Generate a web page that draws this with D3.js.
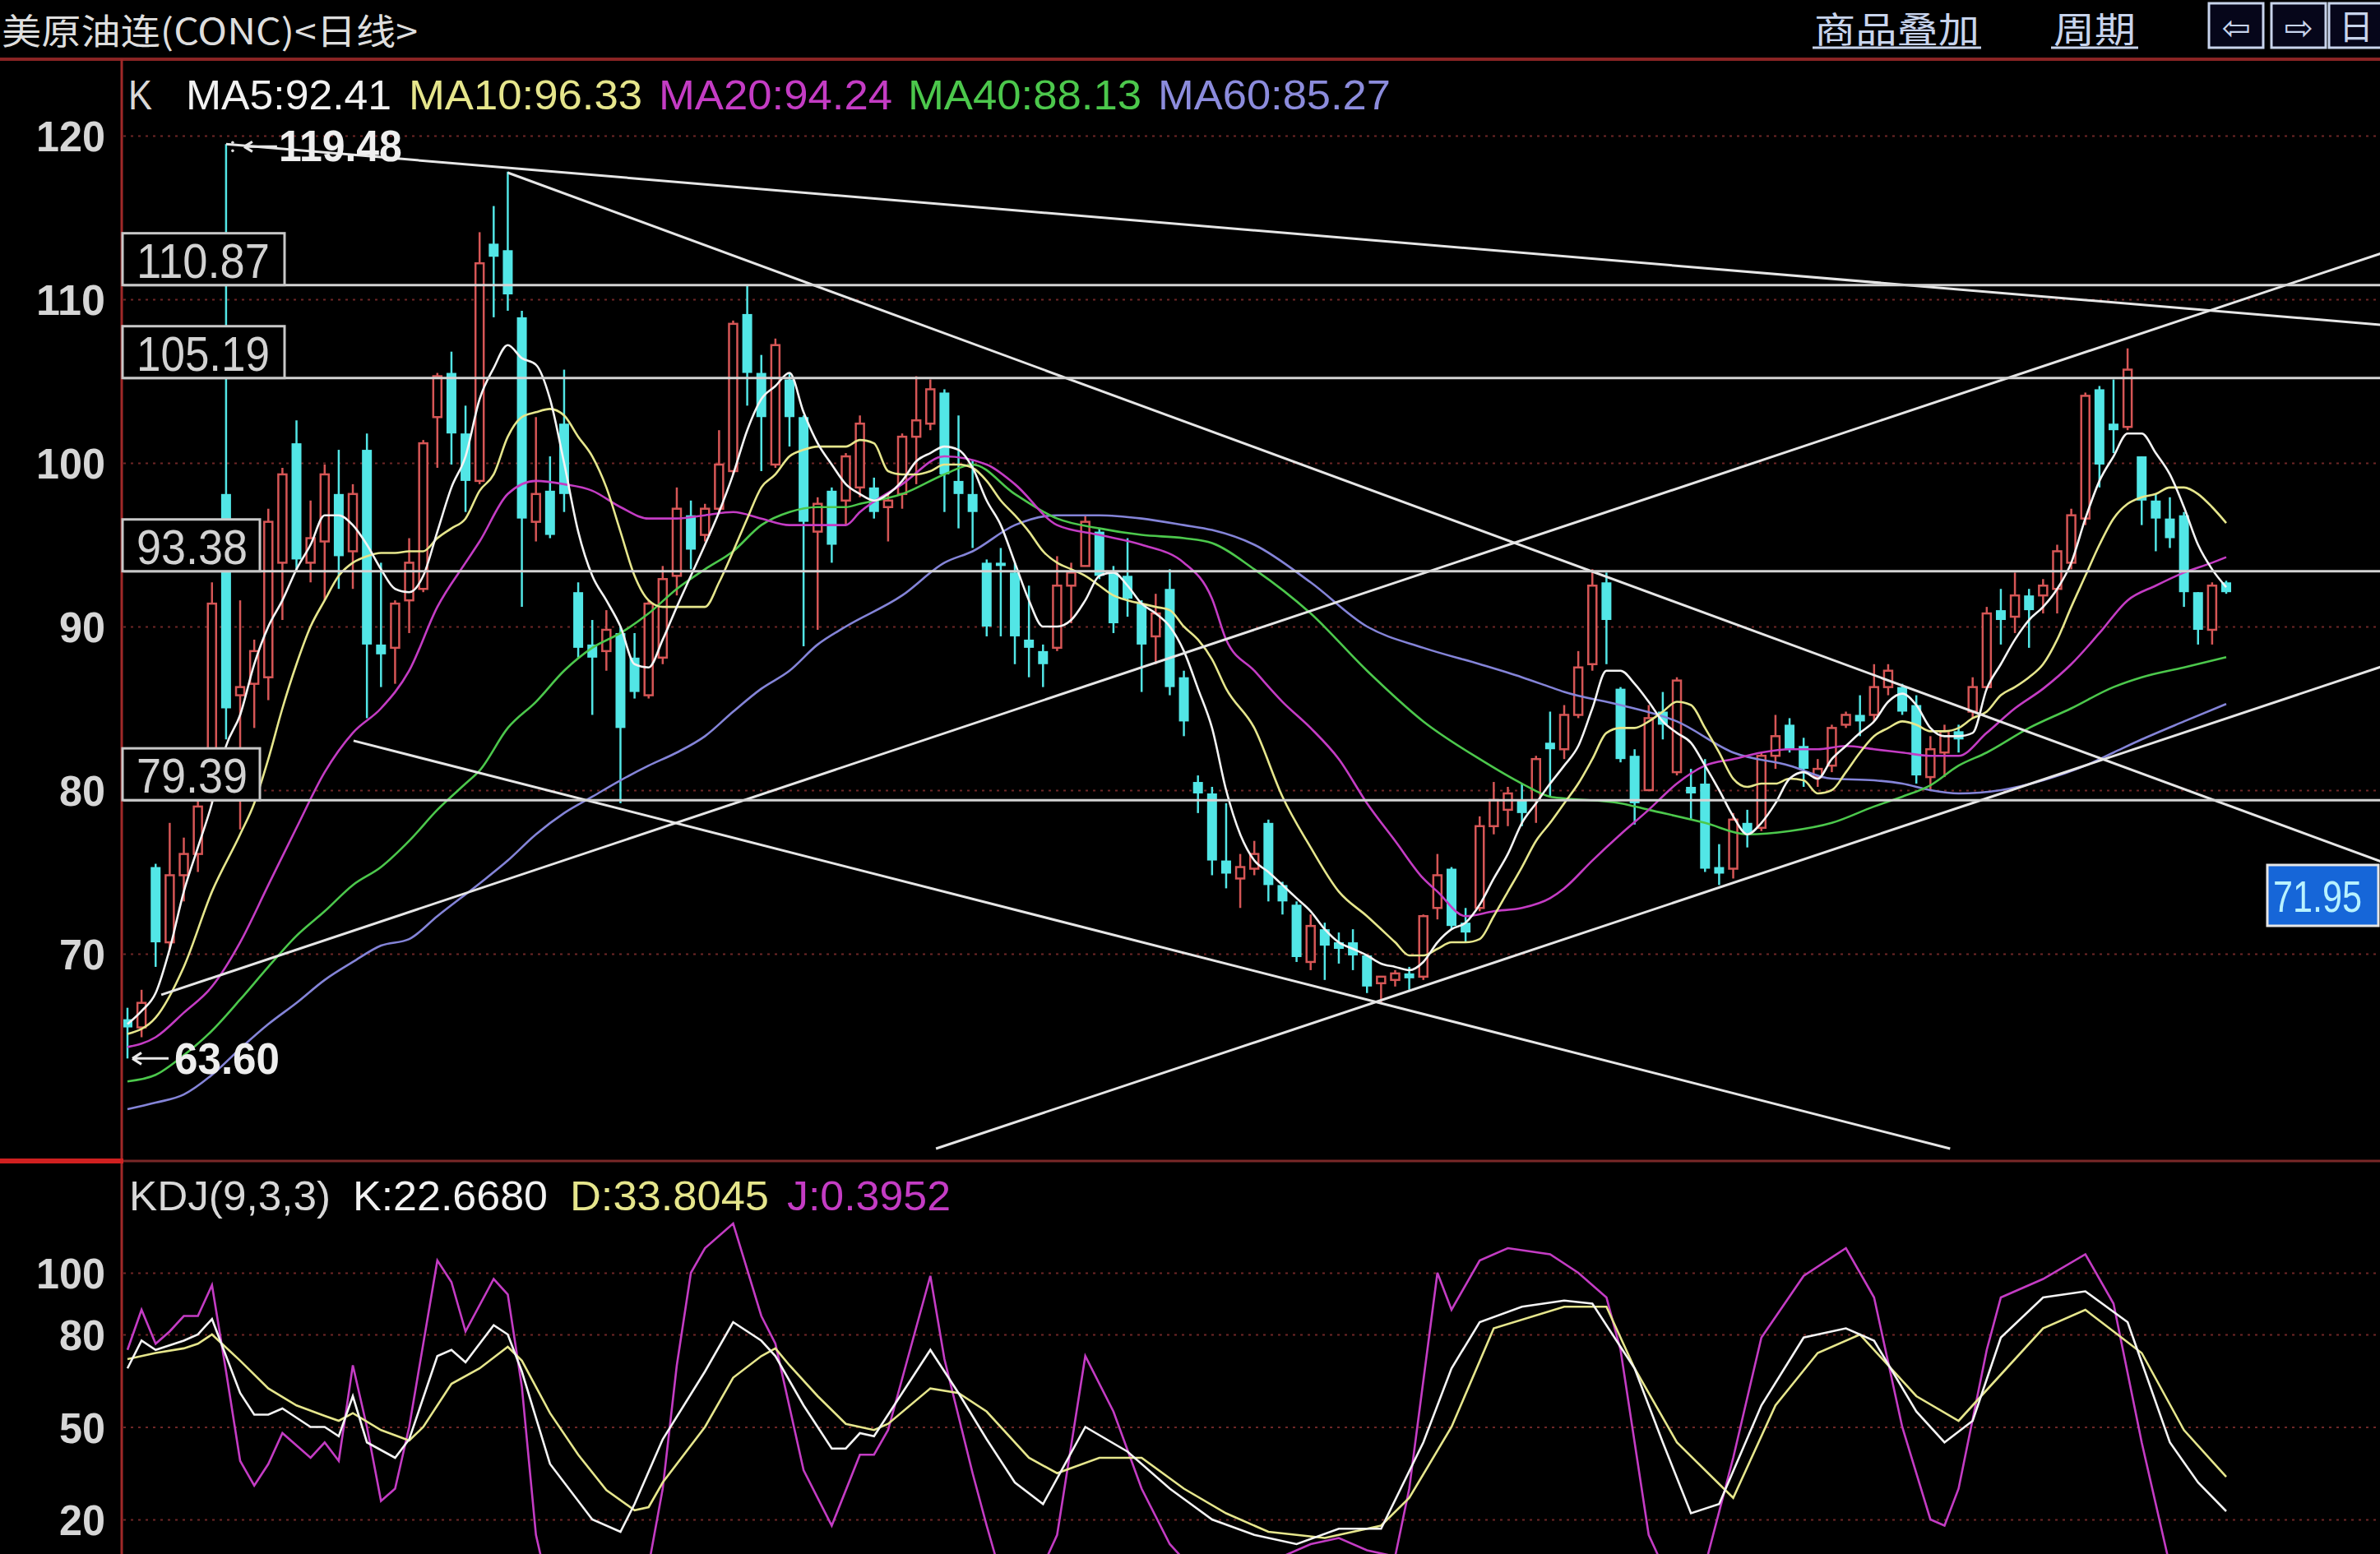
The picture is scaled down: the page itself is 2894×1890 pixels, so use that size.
<!DOCTYPE html>
<html><head><meta charset="utf-8">
<script src="https://cdn.jsdelivr.net/npm/d3@7/dist/d3.min.js"></script>
<style>html,body{margin:0;padding:0;background:#000;overflow:hidden}svg{display:block}</style>
</head><body>
<svg id="chart" width="2894" height="1890" xmlns="http://www.w3.org/2000/svg"></svg>
<script>
// ---------------- DATA ----------------
const candleOpen = [66.0,65.5,75.3,70.7,74.8,76.1,79.4,98.1,85.8,86.5,
86.9,93.9,101.2,93.9,95.2,98.1,94.6,100.8,88.9,88.7,
91.6,92.3,102.8,105.5,101.8,98.9,113.4,113.0,108.9,96.4,
98.3,102.4,92.1,88.9,88.5,89.6,88.1,85.8,88.1,93.1,
96.8,95.6,97.2,99.5,109.1,105.5,99.9,105.1,102.8,95.8,
98.3,97.7,98.5,98.5,97.3,98.1,101.6,102.4,104.3,98.9,
98.1,93.9,93.9,93.3,89.2,88.5,88.7,92.5,93.7,95.8,
93.3,93.1,91.4,89.4,92.3,86.9,80.5,79.8,75.7,74.6,
75.2,78.0,74.2,73.0,69.5,71.5,70.7,70.7,69.9,68.2,
68.4,68.8,68.6,72.8,75.2,71.9,72.8,77.8,78.8,79.4,
79.4,82.9,82.5,84.6,87.7,92.7,86.2,82.1,80.0,84.8,
81.1,80.2,80.4,75.3,75.2,78.0,77.7,82.1,84.0,82.7,
80.8,81.5,84.0,84.6,84.6,86.3,86.3,85.2,80.8,82.3,
83.6,84.8,86.3,91.0,90.6,91.9,91.9,92.3,93.9,96.6,
104.5,102.4,102.2,100.4,97.7,96.6,96.8,92.1,89.8,92.7];
const candleHigh = [66.7,67.8,75.5,78.0,77.1,79.4,92.7,119.48,91.6,89.2,
97.2,99.7,102.6,97.7,99.9,100.8,98.7,101.8,93.9,91.6,
95.4,101.4,105.5,106.8,103.5,114.1,115.7,117.8,109.3,102.8,
100.4,105.7,92.7,90.4,91.0,90.0,89.6,91.6,93.7,98.5,
97.7,97.5,102.0,108.7,110.9,106.6,107.6,105.5,102.9,97.9,
98.5,100.6,102.9,99.1,98.1,101.8,105.3,105.1,104.5,102.9,
100.2,94.1,94.8,93.9,92.5,88.9,94.3,93.9,96.8,96.0,
93.7,95.4,91.6,92.0,93.5,87.3,80.9,80.2,79.2,76.1,
76.9,78.2,74.4,73.2,72.4,71.9,71.3,71.5,69.9,68.6,
69.0,69.2,72.4,76.1,75.3,72.8,78.4,80.5,80.2,80.4,
82.1,84.8,85.2,88.5,93.5,93.3,86.3,82.5,85.2,86.0,
86.9,81.3,81.9,76.7,78.6,78.8,82.3,84.6,84.4,83.2,
81.9,84.0,84.8,85.8,87.7,87.7,86.5,85.8,83.3,84.0,
84.0,86.9,91.2,92.3,93.3,92.3,92.9,95.0,97.2,104.3,
104.7,105.1,107.0,100.4,98.1,97.9,97.0,92.1,92.7,92.8];
const candleLow = [63.6,64.9,69.2,70.3,73.2,75.0,79.2,83.1,77.6,83.8,
85.5,90.4,93.5,92.7,91.6,92.3,92.3,84.4,86.3,86.5,
89.6,92.1,99.7,99.9,97.0,98.7,108.9,109.3,91.2,95.2,
95.4,97.0,88.1,84.6,87.3,79.2,85.6,85.6,87.7,91.9,
93.5,95.2,97.0,99.3,103.5,99.5,99.7,101.0,88.8,89.8,
93.9,96.2,97.9,96.6,95.2,97.2,98.7,102.0,97.0,96.0,
94.8,89.4,89.4,87.7,86.9,86.3,88.5,90.2,93.7,92.9,
89.6,90.6,86.0,87.7,85.8,83.3,78.6,74.8,74.0,72.8,
74.8,73.2,72.4,69.5,69.0,68.4,69.4,69.0,67.6,67.0,
68.0,67.8,68.4,72.1,71.5,70.7,72.6,77.3,77.8,77.8,
78.0,79.6,81.9,84.4,87.3,87.7,81.7,77.9,80.0,83.1,
80.9,78.2,75.0,74.2,74.6,76.5,77.5,81.3,82.3,80.2,
80.2,81.1,83.8,83.3,84.2,85.8,84.6,80.4,80.0,80.8,
82.3,84.4,86.2,88.9,89.6,88.7,90.8,90.8,93.5,96.2,
98.5,100.6,102.0,96.2,94.6,94.8,91.2,88.9,88.9,92.0];
const candleClose = [65.5,67.0,70.7,74.8,76.1,79.0,91.4,85.0,86.3,88.5,
96.4,99.3,94.1,95.4,99.3,94.3,98.1,88.9,88.3,91.4,
93.9,101.2,105.3,101.8,98.9,112.2,112.6,110.3,96.6,98.1,
95.6,98.1,88.7,88.1,89.8,83.8,86.0,91.4,92.9,97.2,
94.7,97.2,99.9,108.5,105.5,102.8,107.2,102.8,96.4,97.5,
95.0,100.4,102.4,97.0,97.7,101.6,102.6,104.5,99.3,98.1,
97.0,90.0,93.7,89.4,88.7,87.7,92.5,93.3,96.4,93.1,
90.2,91.7,88.9,90.8,86.3,84.2,79.8,75.7,74.9,75.3,
76.1,74.2,73.2,69.8,71.7,70.5,70.3,69.9,68.0,68.6,
68.8,68.5,72.3,74.8,71.7,71.3,77.8,79.4,79.8,78.6,
81.9,82.5,84.6,87.5,92.5,90.4,81.9,79.2,84.4,84.0,
86.7,79.8,75.2,74.9,78.2,77.3,82.1,83.3,82.5,81.3,
81.3,83.8,84.6,84.2,86.3,87.3,84.8,80.9,82.5,83.6,
83.1,86.3,90.8,90.4,91.9,91.0,92.5,94.6,96.8,104.1,
99.9,102.0,105.7,97.7,96.6,95.4,92.1,89.8,92.5,92.1];

const ma5 = [65.7,66.5,67.6,70.3,73.8,76.5,79.2,82.7,84.6,87.7,
90.0,91.6,93.5,95.0,96.8,96.8,96.2,95.0,93.5,92.3,
92.1,93.1,95.8,98.5,100.4,103.9,105.8,107.2,106.4,106.0,
103.9,100.0,95.8,93.1,91.6,90.0,87.7,87.5,89.2,91.2,
93.1,95.0,97.0,99.3,102.0,103.9,104.7,105.5,103.1,101.2,
99.9,98.7,98.1,97.7,98.1,98.9,100.1,100.6,101.0,100.8,
99.7,97.7,96.2,93.9,91.6,90.0,90.0,90.4,91.6,93.1,
93.3,92.5,91.4,90.8,90.0,88.5,86.2,83.8,80.0,77.3,
75.7,75.0,74.2,73.4,72.6,71.5,70.7,70.3,69.9,69.4,
69.2,69.0,69.5,70.7,71.5,71.9,73.0,74.6,76.1,78.0,
79.2,80.4,81.5,82.7,85.0,87.3,87.3,86.5,85.4,84.2,
83.5,82.9,81.5,80.0,78.4,77.3,78.0,79.2,80.7,81.1,
80.7,81.9,82.7,83.5,84.2,85.4,85.9,85.2,83.8,83.3,
83.3,83.5,86.2,87.7,89.2,90.4,91.2,92.3,93.9,96.6,
98.9,100.4,101.8,101.8,100.6,99.3,97.3,95.0,93.5,92.41];

// [candle index, value]
const ma10 = [[0,65.1],[2,66.1],[4,69.2],[6,73.8],[8,77.3],[9,79.2],[10,81.9],[11,85.0],[12,87.7],[13,90.0],[14,91.6],[15,93.1],[16,93.9],[17,94.3],[18,94.5],[19,94.5],[20,94.6],[21,94.6],[22,95.4],[23,96.0],[24,96.6],[25,98.3],
[26,99.3],[27,101.6],[28,102.8],[29,103.1],[30,103.3],[31,102.9],[32,101.6],[33,100.4],[34,98.5],[35,95.8],[36,93.1],[37,91.6],[38,91.2],[39,91.2],[40,91.2],[41,91.2],[42,92.7],[43,94.6],[44,96.6],[45,98.5],[46,99.3],[47,100.4],[48,100.8],[49,101.0],[50,101.0],[51,101.0],
[52,101.4],[53,101.2],[54,99.5],[55,99.3],[56,99.3],[57,99.5],[58,99.9],[59,99.9],[60,99.7],[61,98.9],[62,97.7],[63,96.8],[64,95.8],[65,94.6],[66,93.9],[67,93.5],[68,93.1],[69,92.5],[70,91.9],[71,91.6],[72,91.4],[73,91.2],[74,91.0],[75,90.0],[76,89.2],[77,88.0],
[78,86.2],[80,83.8],[82,79.6],[84,76.5],[86,73.8],[88,72.3],[90,70.7],[91,69.9],[92,69.9],[93,70.3],[94,70.7],[95,70.7],[96,70.9],[97,72.3],[98,73.8],[99,75.3],[100,76.9],[101,78.0],[102,79.2],
[103,80.4],[104,81.9],[105,83.5],[106,83.8],[107,83.8],[108,84.2],[109,84.8],[110,85.4],[111,85.2],[112,83.8],[113,82.3],[114,80.7],[115,80.2],[116,80.4],[117,80.4],[118,80.7],[119,80.6],[120,79.8],[121,80.0],[122,81.1],[123,82.3],[124,83.3],[125,83.8],[126,84.2],[127,84.0],[128,83.6],
[129,83.6],[130,83.8],[131,84.4],[132,84.8],[133,85.8],[134,86.3],[135,86.9],[136,87.7],[137,89.2],[138,91.2],[139,93.1],[140,95.0],[141,96.6],[142,97.5],[143,97.9],[144,98.1],[145,98.5],[146,98.5],[147,98.1],[148,97.3],[149,96.33]];
const ma20 = [[0,64.3],[2,64.9],[4,66.4],[6,68.0],[8,70.7],[10,74.2],[12,77.7],[14,81.1],[16,83.5],[18,85.0],[20,87.3],[22,91.2],[24,93.9],[25,95.2],
[27,98.1],[29,98.9],[31,98.7],[33,98.3],[35,97.3],[37,96.6],[39,96.6],[41,96.8],[43,97.0],[45,96.6],[47,96.2],[49,96.2],[51,96.2],
[52,97.0],[55,98.7],[58,100.4],[61,99.9],[63,98.7],[66,96.2],[69,95.6],[72,95.0],[75,93.9],[77,91.7],
[78,89.2],[80,87.3],[82,85.4],[84,83.8],[86,81.9],[88,79.2],[90,76.9],[92,74.6],[93,73.8],[95,72.3],[97,72.6],[99,72.8],[101,73.4],[102,74.0],
[104,75.7],[106,77.3],[108,78.8],[110,80.4],[112,81.5],[114,81.9],[116,82.3],[118,82.5],[120,82.5],[122,82.7],[124,82.5],[126,82.3],[128,82.1],
[130,82.1],[132,83.5],[134,85.0],[136,86.2],[138,87.7],[140,89.6],[142,91.6],[144,92.5],[146,93.3],[148,93.9],[149,94.24]];
const ma40 = [[0,62.2],[2,62.6],[4,63.8],[6,65.3],[8,67.2],[10,69.2],[12,71.1],[14,72.6],[16,74.2],[18,75.3],[20,76.9],[22,78.8],[24,80.4],[25,81.2],
[27,83.8],[29,85.4],[31,87.3],[33,88.7],[35,89.6],[37,90.8],[39,92.3],[41,93.5],[43,94.6],[45,96.2],[47,97.0],[49,97.3],[51,97.3],
[52,97.5],[55,98.1],[58,99.3],[60,99.9],[63,98.1],[66,96.6],[69,96.0],[72,95.6],[75,95.4],[77,95.1],
[80,93.5],[84,90.8],[88,87.3],[92,84.2],[96,81.9],[99,80.4],[101,79.6],[102,79.5],
[106,79.2],[108,78.8],[112,78.0],[115,77.3],[118,77.5],[121,78.0],[124,79.0],[126,79.6],[128,80.3],
[130,81.5],[132,82.3],[135,83.8],[138,85.0],[141,86.3],[143,86.9],[146,87.5],[149,88.13]];
const ma60 = [[0,60.5],[2,60.9],[4,61.4],[6,62.6],[8,64.2],[10,65.7],[12,67.0],[14,68.4],[16,69.5],[18,70.5],[20,70.9],[22,72.3],[25,74.3],
[27,75.7],[29,77.3],[31,78.6],[33,79.6],[35,80.6],[37,81.5],[39,82.3],[41,83.3],[43,84.8],[45,86.2],[47,87.3],[49,88.9],[51,90.0],
[55,91.9],[58,93.9],[60,94.6],[63,96.2],[66,96.8],[69,96.8],[72,96.6],[75,96.2],[77,95.9],
[80,95.0],[84,92.7],[88,90.0],[92,88.7],[96,87.7],[99,86.9],[101,86.3],[102,86.0],
[106,85.2],[110,84.2],[114,82.3],[118,81.5],[121,80.7],[124,80.6],[126,80.4],[128,80.0],
[130,79.8],[133,80.0],[136,80.6],[139,81.5],[141,82.3],[143,83.1],[146,84.2],[149,85.27]];

const kdjK = [[0,69],[1,78],[2,75],[4,78],[5,80],[6,85],[8,61],[9,54],[10,54],[11,56],[12,53],[13,50],[14,50],[15,47],[16,60],[17,45],[19,40],[20,46],[22,73],[23,75],[24,71],[26,83],[27,80],[28,68],[30,38],[33,20],[35,16],[36,25],[38,46],[41,68],[43,84],[45,78],[46,73],[48,57],[50,43],[51,43],[52,48],[53,47],[54,54],[57,75],[59,61],[61,46],[63,32],[65,25],[68,50],[71,42],[74,30],[77,20],[80,15],[83,12],[86,17],[89,17],[92,45],[94,69],[96,84],[99,89],[102,91],[104,90],[107,69],[109,45],[111,22],[113,25],[116,57],[119,79],[122,82],[124,78],[127,55],[129,45],[131,52],[133,79],[136,92],[139,94],[142,84],[145,45],[147,32],[149,22.668]];
const kdjD = [[0,72],[2,74],[4,75.5],[5,77],[6,80],[8,71.5],[10,62.5],[12,57],[14,53.6],[15,52],[16,54.5],[18,49],[20,45.6],[21,50],[23,64],[25,69],[27,76],[28,71.5],[30,54.5],[32,41],[34,29.5],[36,23],[37,24],[38,32],[41,50],[43,66],[45,73],[46,75.5],[47,70],[49,60],[51,51],[53,49],[54,51],[57,62.5],[59,61],[61,55],[64,40],[66,35],[69,40],[72,40],[75,30],[78,22],[81,16],[85,14],[89,18],[91,27],[94,50],[97,82],[102,89],[105,89],[107,69],[110,45],[114,27],[117,57],[120,74],[123,80],[127,60],[130,52],[133,67],[136,82],[139,88],[143,74],[146,49],[149,33.8045]];
const kdjJ = [[0,75],[1,88],[2,77],[3,81],[4,86],[5,86],[6,96],[7,68],[8,39],[9,31],[10,38],[11,48],[13,40],[14,45],[15,39],[16,70],[17,50],[18,26],[19,30],[20,50],[22,104],[23,97],[24,81],[26,98],[27,93],[28,63],[29,15],[30,-5],[32,-10],[34,-8],[36,-5],[37,5],[38,30],[39,70],[40,100],[41,108],[43,116],[45,86],[46,77],[48,36],[50,18],[52,41],[53,41],[54,49],[57,99],[58,72],[60,35],[61,18],[62,2],[64,-5],[66,15],[68,73],[70,55],[72,30],[74,12],[76,2],[79,5],[82,8],[84,12],[86,14],[88,10],[90,8],[91,30],[93,100],[94,88],[96,104],[98,108],[101,106],[103,100],[105,92],[106,75],[107,45],[108,15],[110,-5],[112,5],[114,40],[116,79],[119,99],[122,108],[124,92],[126,50],[128,20],[129,18],[130,30],[132,75],[133,92],[136,98],[139,106],[141,90],[143,45],[145,5],[147,-10],[149,0.3952]];

const priceTicks = [120,110,100,90,80,70];
const kdjTicks = [100,80,50,20];
const levelPrices = [110.87,105.19,93.38,79.39];
const levelLabels = ["110.87","105.19","93.38","79.39"];
// drawn trend lines: [[index, price],[index, price]]
const trendLines = [
  [[7,119.48],[160,108.44]],
  [[27,117.74],[160,75.63]],
  [[16.05,83.02],[129.4,58.09]],
  [[57.4,58.09],[160,87.54]],
  [[2.4,67.49],[160,112.81]]
];
const titleText = "美原油连(CONC)<日线>";
const maHeader = [["K","#d8d8d8"],["MA5:92.41","#f2f2f2"],["MA10:96.33","#e6e68c"],["MA20:94.24","#c43cc4"],["MA40:88.13","#4cc84c"],["MA60:85.27","#8c8cdc"]];
const kdjHeader = [["KDJ(9,3,3)","#d8d8d8"],["K:22.6680","#f2f2f2"],["D:33.8045","#e6e68c"],["J:0.3952","#c43cc4"]];
const highLabel = "119.48", lowLabel = "63.60", lastLabel = "71.95";

// ---------------- DRAW ----------------
const W = 2894, H = 1890;
const FONT = '"Liberation Sans", Arial, sans-serif';
const CJK = '"Noto Sans CJK SC", "Noto Sans CJK JP", sans-serif';
const svg = d3.select('#chart');
svg.append('rect').attr('width', W).attr('height', H).attr('fill', '#000');

const xS = d3.scaleLinear().domain([0,149]).range([155,2707]);
const yP = d3.scaleLinear().domain([120,70]).range([165,1160]);
const yK = d3.scaleLinear().domain([100,20]).range([1548,1848]);

const defs = svg.append('defs');
defs.append('clipPath').attr('id','clipP').append('rect').attr('x',150).attr('y',75).attr('width',W-150).attr('height',1335);
defs.append('clipPath').attr('id','clipK').append('rect').attr('x',150).attr('y',1416).attr('width',W-150).attr('height',H-1416);

function text(g, s, x, y, size, fill, len, opts = {}) {
  const t = g.append('text').attr('x', x).attr('y', y).text(s)
    .attr('font-family', opts.family || FONT).attr('font-size', size)
    .attr('fill', fill).attr('font-weight', opts.weight || 'normal');
  if (len) t.attr('textLength', len).attr('lengthAdjust', 'spacingAndGlyphs');
  if (opts.anchor) t.attr('text-anchor', opts.anchor);
  return t;
}

// frame lines
svg.append('line').attr('x1',0).attr('x2',W).attr('y1',72).attr('y2',72).attr('stroke','#8a2424').attr('stroke-width',4);
svg.append('line').attr('x1',148).attr('x2',148).attr('y1',72).attr('y2',H).attr('stroke','#a02828').attr('stroke-width',3);
svg.append('line').attr('x1',148).attr('x2',W).attr('y1',1412).attr('y2',1412).attr('stroke','#7a2828').attr('stroke-width',3);
svg.append('line').attr('x1',0).attr('x2',150).attr('y1',1412).attr('y2',1412).attr('stroke','#d02020').attr('stroke-width',6);

// axes with dotted grid
function styleAxis(g, lens) {
  g.select('.domain').remove();
  g.selectAll('.tick line').attr('stroke','#6e2626').attr('stroke-width',2).attr('stroke-dasharray','3,6');
  g.selectAll('.tick text').attr('fill','#d6d6d6').attr('font-family',FONT).attr('font-size',52)
    .attr('font-weight','bold').attr('dy','0.36em')
    .each(function(d){ d3.select(this).attr('textLength', lens(d)).attr('lengthAdjust','spacingAndGlyphs'); });
}
const axP = svg.append('g').attr('transform','translate(150,0)')
  .call(d3.axisLeft(yP).tickValues(priceTicks).tickSize(-(W-150)).tickPadding(22).tickFormat(d3.format('d')));
styleAxis(axP, d => String(d).length * 28);
const axK = svg.append('g').attr('transform','translate(150,0)')
  .call(d3.axisLeft(yK).tickValues(kdjTicks).tickSize(-(W-150)).tickPadding(22).tickFormat(d3.format('d')));
styleAxis(axK, d => String(d).length * 28);

// candles
const candles = d3.range(candleOpen.length).map(i => ({i, o:candleOpen[i], h:candleHigh[i], l:candleLow[i], c:candleClose[i]}));
const RED = '#d65656', CYAN = '#52e6e6', BW = 12;
const cg = svg.append('g').attr('clip-path','url(#clipP)');
const cs = cg.selectAll('g.c').data(candles).join('g').attr('class','c');
cs.each(function(d){
  const g = d3.select(this);
  const x = xS(d.i);
  const up = d.c >= d.o;
  const top = yP(Math.max(d.o,d.c)), bot = yP(Math.min(d.o,d.c));
  const h = Math.max(bot - top, 2.5);
  const col = up ? RED : CYAN;
  if (up) {
    g.append('line').attr('x1',x).attr('x2',x).attr('y1',yP(d.h)).attr('y2',top).attr('stroke',col).attr('stroke-width',2.5);
    g.append('line').attr('x1',x).attr('x2',x).attr('y1',top+h).attr('y2',yP(d.l)).attr('stroke',col).attr('stroke-width',2.5);
    g.append('rect').attr('x',x-BW/2+1).attr('y',top).attr('width',BW-2).attr('height',h)
      .attr('fill','#000').attr('stroke',col).attr('stroke-width',2.5);
  } else {
    g.append('line').attr('x1',x).attr('x2',x).attr('y1',yP(d.h)).attr('y2',yP(d.l)).attr('stroke',col).attr('stroke-width',2.5);
    g.append('rect').attr('x',x-BW/2).attr('y',top).attr('width',BW).attr('height',h).attr('fill',col);
  }
});

// moving averages
const mg = svg.append('g').attr('clip-path','url(#clipP)');
const lineP = d3.line().x(d => xS(d[0])).y(d => yP(d[1])).curve(d3.curveMonotoneX);
const maSeries = [
  [ma60, '#8484d8'], [ma40, '#4cc84c'], [ma20, '#c43cc4'], [ma10, '#e6e68c'],
  [ma5.map((v,i)=>[i,v]), '#f4f4f4']
];
maSeries.forEach(([data,col]) => {
  mg.append('path').attr('d', lineP(data)).attr('fill','none').attr('stroke',col).attr('stroke-width',2.6);
});

// drawn trend lines and levels
const tg = svg.append('g').attr('clip-path','url(#clipP)');
trendLines.forEach(seg => {
  tg.append('line').attr('x1',xS(seg[0][0])).attr('y1',yP(seg[0][1])).attr('x2',xS(seg[1][0])).attr('y2',yP(seg[1][1]))
    .attr('stroke','#e6e6e6').attr('stroke-width',3);
});
levelPrices.forEach(p => {
  tg.append('line').attr('x1',148).attr('x2',W).attr('y1',yP(p)).attr('y2',yP(p)).attr('stroke','#d4d4d4').attr('stroke-width',3);
});

// level label boxes
const lg = svg.append('g');
levelPrices.forEach((p,k) => {
  const y = yP(p);
  const s = levelLabels[k];
  const w = s.length === 6 ? 197 : 167;
  lg.append('rect').attr('x',149).attr('y',y-63).attr('width',w).attr('height',63)
    .attr('fill','#000').attr('stroke','#c8c8c8').attr('stroke-width',3);
  text(lg, s, 166, y-9, 60, '#d2d2d2', s.length * 27);
});

// high / low markers
const hx = xS(7), hy = yP(candleHigh[7]);
lg.append('path').attr('d',`M${hx+22},${hy+3} L${hx+62},${hy+3} M${hx+22},${hy+3} l10,-6 M${hx+22},${hy+3} l10,6`)
  .attr('stroke','#e8e8e8').attr('stroke-width',3).attr('fill','none');
lg.append('circle').attr('cx',hx+8).attr('cy',hy-2).attr('r',1.8).attr('fill','#ddd');
lg.append('circle').attr('cx',hx+8).attr('cy',hy+8).attr('r',1.8).attr('fill','#ddd');
text(lg, highLabel, hx+64, hy+21, 53, '#eeeeee', 150, {weight:'bold'});
const lx = xS(0), ly = yP(candleLow[0]);
lg.append('path').attr('d',`M${lx+6},${ly} L${lx+50},${ly} M${lx+6},${ly} l11,-7 M${lx+6},${ly} l11,7`)
  .attr('stroke','#e8e8e8').attr('stroke-width',3).attr('fill','none');
text(lg, lowLabel, lx+57, ly+19, 53, '#eeeeee', 128, {weight:'bold'});

// last price box
lg.append('rect').attr('x',2757).attr('y',1052).attr('width',135).attr('height',74)
  .attr('fill','#1666d8').attr('stroke','#e6e6e6').attr('stroke-width',3);
const lastG = lg.append('g').attr('transform','translate(2764,1109) scale(0.8,1)');
text(lastG, lastLabel, 0, 0, 54, '#b8f2ff', null);

// KDJ lines
const kg = svg.append('g').attr('clip-path','url(#clipK)');
const lineK = d3.line().x(d => xS(d[0])).y(d => yK(d[1]));
[[kdjJ,'#c43cc4'],[kdjD,'#e6e68c'],[kdjK,'#f4f4f4']].forEach(([data,col]) => {
  kg.append('path').attr('d', lineK(data)).attr('fill','none').attr('stroke',col).attr('stroke-width',2.6);
});

// headers
const hg = svg.append('g');
const maPos = [[156,29],[226,250],[497,284],[801,284],[1104,284],[1408,283]];
maHeader.forEach(([s,col],k) => text(hg, s, maPos[k][0], 133, 50, col, maPos[k][1]));
const kdjPos = [[157,245],[429,237],[693,242],[957,199]];
kdjHeader.forEach(([s,col],k) => text(hg, s, kdjPos[k][0], 1472, 50, col, kdjPos[k][1]));

// title bar
text(hg, titleText, 2, 54, 43, '#dedede', 506, {family: CJK});
text(hg, '商品叠加', 2206, 52, 43, '#c8d4ec', 201, {family: CJK});
hg.append('line').attr('x1',2204).attr('x2',2409).attr('y1',58).attr('y2',58).attr('stroke','#c8d4ec').attr('stroke-width',3);
text(hg, '周期', 2497, 52, 43, '#c8d4ec', 100, {family: CJK});
hg.append('line').attr('x1',2494).attr('x2',2600).attr('y1',58).attr('y2',58).attr('stroke','#c8d4ec').attr('stroke-width',3);
const btns = [[2686,'⇦'],[2762,'⇨'],[2832,'日']];
btns.forEach(([bx,g]) => {
  hg.append('rect').attr('x',bx).attr('y',4).attr('width',66).attr('height',54)
    .attr('fill','#06061a').attr('stroke','#c8d4ec').attr('stroke-width',3);
  text(hg, g, bx+33, 48, 42, '#c8d4ec', null, {family: g==='日' ? CJK : '"DejaVu Sans", sans-serif', anchor:'middle'});
});
</script>
</body></html>
